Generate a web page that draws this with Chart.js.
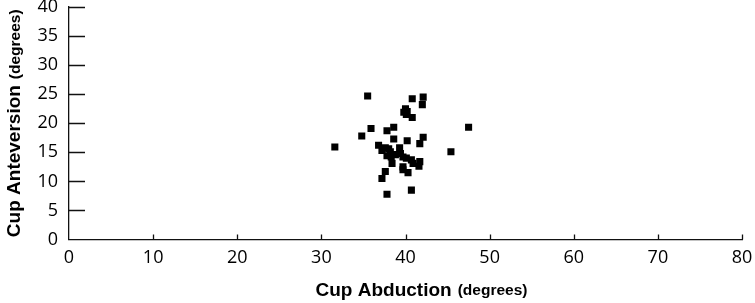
<!DOCTYPE html>
<html>
<head>
<meta charset="utf-8">
<script src="https://cdn.jsdelivr.net/npm/chart.js@4/dist/chart.umd.min.js"></script>
<style>
  html, body { margin: 0; padding: 0; background: #fff; }
  #wrap { width: 755px; height: 303px; position: relative; }
</style>
</head>
<body>
<div id="wrap"><canvas id="c" width="755" height="303"></canvas></div>
<script>
// ---- data ----
const abduction = [35.5, 40.8, 42.1, 42.0, 40.0, 40.2, 40.1, 40.8, 47.5, 35.9,
                   34.8, 37.8, 38.6, 38.6, 31.6, 40.2, 42.1, 41.7, 36.8, 37.2,
                   37.6, 38.0, 37.8, 38.3, 38.4, 38.8, 39.3, 39.4, 39.7, 40.1,
                   40.7, 39.7, 39.7, 40.3, 40.9, 41.7, 41.6, 45.4, 37.6, 37.2,
                   37.8, 40.7, 38.2, 39.8];
const anteversion = [24.7, 24.2, 24.5, 23.2, 22.5, 22.0, 21.5, 21.0, 19.3, 19.1,
                     17.8, 18.7, 19.3, 17.3, 15.9, 17.0, 17.6, 16.5, 16.2, 15.3,
                     15.8, 15.6, 14.4, 14.2, 13.1, 14.6, 15.8, 14.8, 14.2, 14.0,
                     13.7, 12.5, 12.0, 11.5, 13.1, 13.4, 12.6, 15.1, 11.7, 10.5,
                     7.8, 8.5, 15.1, 21.9];
const xTicks = [0, 10, 20, 30, 40, 50, 60, 70, 80];
const yTicks = [0, 5, 10, 15, 20, 25, 30, 35, 40];
const xTitleMain = 'Cup Abduction';
const yTitleMain = 'Cup Anteversion';
const titleUnit = '(degrees)';

const points = abduction.map((x, i) => ({ x: x, y: anteversion[i] }));

const TICK_FONT = { family: "'Open Sans', 'Liberation Sans', sans-serif", size: 18 };
const TITLE_FAMILY = "'Liberation Sans', Arial, sans-serif";

// Inward tick marks + mixed-size axis titles
const axisDecor = {
  id: 'axisDecor',
  afterDraw(chart) {
    const ctx = chart.ctx;
    const xs = chart.scales.x, ys = chart.scales.y;
    const ca = chart.chartArea;
    ctx.save();
    ctx.strokeStyle = '#111';
    ctx.lineWidth = 1.3;
    ctx.beginPath();
    yTicks.forEach(v => {
      if (v === 0) return;
      const py = Math.round(ys.getPixelForValue(v)) + 0.5;
      ctx.moveTo(ca.left, py);
      ctx.lineTo(ca.left + 16, py);
    });
    xTicks.forEach(v => {
      if (v === 0) return;
      const px = Math.round(xs.getPixelForValue(v)) + 0.5;
      ctx.moveTo(px, ca.bottom);
      ctx.lineTo(px, ca.bottom - 5);
    });
    ctx.stroke();

    // X title
    ctx.fillStyle = '#000';
    ctx.textBaseline = 'middle';
    const mainFont = 'bold 19px ' + TITLE_FAMILY;
    const unitFont = 'bold 15.5px ' + TITLE_FAMILY;
    ctx.font = mainFont;
    const wMainX = ctx.measureText(xTitleMain).width;
    ctx.font = unitFont;
    const wUnit = ctx.measureText(titleUnit).width;
    const gap = 6;
    const cx = (ca.left + ca.right) / 2 + 16;
    let sx = cx - (wMainX + gap + wUnit) / 2;
    const ty = ca.bottom + 51;
    ctx.textAlign = 'left';
    ctx.font = mainFont;
    ctx.fillText(xTitleMain, sx, ty);
    ctx.font = unitFont;
    ctx.fillText(titleUnit, sx + wMainX + gap, ty + 0.5);

    // Y title (rotated)
    ctx.font = mainFont;
    const wMainY = ctx.measureText(yTitleMain).width;
    const totalY = wMainY + gap + wUnit;
    const cy = (ca.top + ca.bottom) / 2;
    ctx.translate(15, cy);
    ctx.rotate(-Math.PI / 2);
    let sy = -totalY / 2;
    ctx.font = mainFont;
    ctx.fillText(yTitleMain, sy, 0);
    ctx.font = unitFont;
    ctx.fillText(titleUnit, sy + wMainY + gap, 0.5);
    ctx.restore();
  }
};

new Chart(document.getElementById('c'), {
  type: 'scatter',
  data: {
    datasets: [{
      data: points,
      pointStyle: 'rect',
      pointRadius: 5,
      pointHoverRadius: 5,
      pointBorderWidth: 0,
      backgroundColor: '#000',
      borderColor: '#000'
    }]
  },
  options: {
    responsive: false,
    animation: false,
    events: [],
    layout: { padding: { top: 7, right: 13, left: 0, bottom: 0 } },
    plugins: { legend: { display: false }, tooltip: { enabled: false } },
    scales: {
      x: {
        type: 'linear',
        min: 0, max: 80,
        afterBuildTicks: s => { s.ticks = xTicks.map(v => ({ value: v })); },
        afterFit: s => { s.height = 63.5; s.paddingLeft = 0; s.paddingRight = 0; },
        grid: { display: true, drawOnChartArea: false, drawTicks: false },
        border: { display: true, color: '#111', width: 1.3 },
        ticks: { color: '#000', font: TICK_FONT, padding: 8, maxRotation: 0, autoSkip: false },
        title: { display: false }
      },
      y: {
        type: 'linear',
        min: 0, max: 40,
        afterBuildTicks: s => { s.ticks = yTicks.map(v => ({ value: v })); },
        afterFit: s => { s.width = 69; s.paddingTop = 0; s.paddingBottom = 0; },
        grid: { display: true, drawOnChartArea: false, drawTicks: false },
        border: { display: true, color: '#111', width: 1.3 },
        ticks: { color: '#000', font: TICK_FONT, padding: 11, autoSkip: false },
        title: { display: false }
      }
    }
  },
  plugins: [axisDecor]
});
</script>
</body>
</html>
